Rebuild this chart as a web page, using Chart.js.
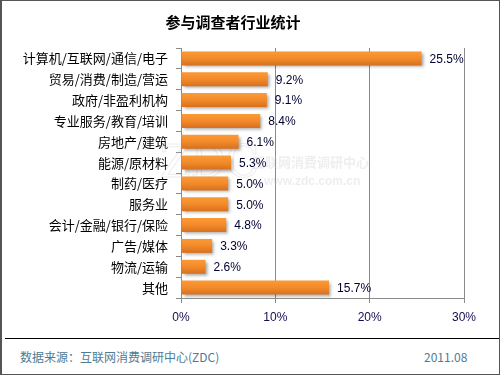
<!DOCTYPE html>
<html>
<head>
<meta charset="utf-8">
<script src="https://cdn.jsdelivr.net/npm/chart.js@4/dist/chart.umd.min.js"></script>
<style>
  html, body { margin: 0; padding: 0; background: #fff; }
  #frame {
    position: relative; width: 500px; height: 375px;
    box-sizing: border-box; border: 1px solid #555; border-left-width: 2px;
    font-family: "Noto Sans CJK SC", "DejaVu Sans", sans-serif;
  }
  #chart { position: absolute; left: 0; top: 0; }
  #rule { position: absolute; left: 3px; width: 494px; top: 337px; height: 0; border-top: 1px solid #000; }
  .foot { position: absolute; top: 348px; font-size: 12px; color: #4f7b93; line-height: 16px; }
</style>
</head>
<body>
<div id="frame">
  <canvas id="chart" width="498" height="330"></canvas>
  <div id="rule"></div>
  <div class="foot" style="left:18px">数据来源：互联网消费调研中心(ZDC)</div>
  <div class="foot" style="left:422px">2011.08</div>
</div>
<script>
// categories and values (percent)
var industries = ['计算机/互联网/通信/电子', '贸易/消费/制造/营运', '政府/非盈利机构',
  '专业服务/教育/培训', '房地产/建筑', '能源/原材料', '制药/医疗', '服务业',
  '会计/金融/银行/保险', '广告/媒体', '物流/运输', '其他'];
var shares = [25.5, 9.2, 9.1, 8.4, 6.1, 5.3, 5.0, 5.0, 4.8, 3.3, 2.6, 15.7];
var xTicks = [0, 10, 20, 30];

var BAR_H = 14;

function barFill(c) {
    var chart = c.chart;
    var y = chart.scales && chart.scales.y;
    if (!y || c.dataIndex === undefined) return '#f08a2c';
    var cy = y.getPixelForValue(c.dataIndex);
    if (!isFinite(cy)) return '#f08a2c';
    var g = chart.ctx.createLinearGradient(0, cy - BAR_H / 2, 0, cy + BAR_H / 2);
    g.addColorStop(0, '#fb9a36');
    g.addColorStop(0.5, '#f38a2a');
    g.addColorStop(1, '#d6701e');
    return g;
}

var shadowPlugin = {
    id: 'barShadow',
    beforeDatasetsDraw: function (chart) {
        var ctx = chart.ctx;
        ctx.save();
        ctx.shadowColor = 'rgba(0,0,0,0.35)';
        ctx.shadowOffsetX = 2;
        ctx.shadowOffsetY = 2;
        ctx.shadowBlur = 3;
    },
    afterDatasetsDraw: function (chart) {
        chart.ctx.restore();
    }
};

var valueLabels = {
    id: 'valueLabels',
    afterDatasetsDraw: function (chart) {
        var ctx = chart.ctx;
        var meta = chart.getDatasetMeta(0);
        ctx.save();
        ctx.font = '12px "Liberation Sans", Arial, sans-serif';
        ctx.fillStyle = '#000033';
        ctx.textAlign = 'left';
        ctx.textBaseline = 'middle';
        meta.data.forEach(function (bar, i) {
            ctx.fillText(shares[i].toFixed(1) + '%', bar.x + 8, bar.y + 1);
        });
        ctx.restore();
    }
};

var watermark = {
    id: 'watermark',
    beforeDatasetsDraw: function (chart) {
        var ctx = chart.ctx;
        ctx.save();
        ctx.strokeStyle = 'rgba(200,200,200,0.35)';
        ctx.lineWidth = 1;
        ctx.font = '44px "DejaVu Serif", serif';
        ctx.textBaseline = 'alphabetic';
        ctx.strokeText('ZDC', 158, 176);
        ctx.fillStyle = 'rgba(200,200,200,0.3)';
        ctx.font = 'bold 13px "Noto Sans CJK SC", sans-serif';
        ctx.fillText('互联网消费调研中心', 250, 166);
        ctx.font = 'bold 12px "Liberation Sans", sans-serif';
        ctx.fillText('www.zdc.com.cn', 262, 184);
        ctx.restore();
    }
};

var chart = new Chart(document.getElementById('chart'), {
    type: 'bar',
    data: {
        labels: industries,
        datasets: [{
            data: shares,
            backgroundColor: barFill,
            borderWidth: 0,
            barPercentage: 0.67,
            categoryPercentage: 1
        }]
    },
    options: {
        indexAxis: 'y',
        responsive: false,
        animation: false,
        events: [],
        layout: { padding: { left: 0, right: 36, top: 0, bottom: 0 } },
        plugins: {
            legend: { display: false },
            tooltip: { enabled: false },
            title: {
                display: true,
                text: '参与调查者行业统计',
                color: '#000',
                font: { family: '"Noto Sans CJK SC", sans-serif', size: 15, weight: 'bold', lineHeight: 1.2 },
                padding: { top: 12, bottom: 17 }
            }
        },
        scales: {
            x: {
                min: 0, max: 30,
                afterBuildTicks: function (s) { s.ticks = xTicks.map(function (v) { return { value: v }; }); },
                afterFit: function (s) { s.height = 33; },
                grid: { color: '#8a8a8a', lineWidth: 1, drawTicks: true, tickLength: 5, tickColor: '#8a8a8a' },
                border: { color: '#8a8a8a' },
                ticks: {
                    padding: 7,
                    color: '#1a0a50',
                    font: { family: '"Liberation Sans", Arial, sans-serif', size: 12 },
                    callback: function (v) { return v + '%'; }
                }
            },
            y: {
                afterFit: function (s) { s.width = 179; },
                grid: { offset: true, drawOnChartArea: false, tickLength: 5, tickColor: '#8a8a8a' },
                border: { color: '#8a8a8a' },
                ticks: {
                    padding: 8,
                    color: '#000',
                    font: { family: '"Noto Sans CJK SC", sans-serif', size: 13 }
                }
            }
        }
    },
    plugins: [watermark, shadowPlugin, valueLabels]
});
</script>
</body>
</html>
